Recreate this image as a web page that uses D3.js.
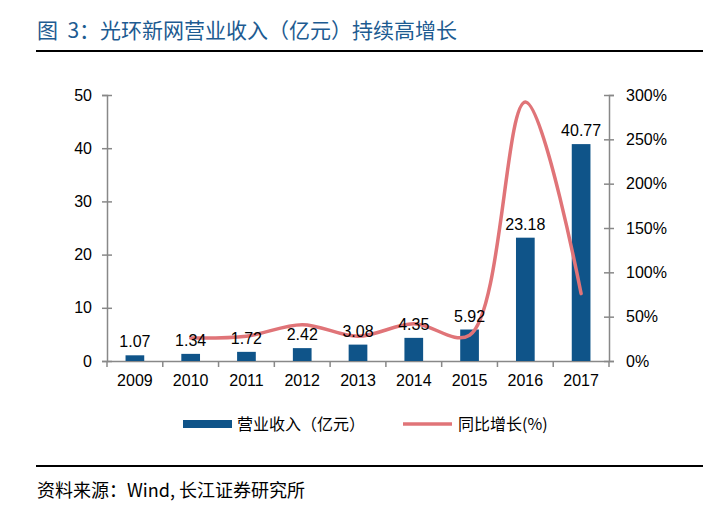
<!DOCTYPE html>
<html lang="zh">
<head>
<meta charset="UTF-8">
<title>光环新网营业收入</title>
<script src="https://cdn.jsdelivr.net/npm/d3@7/dist/d3.min.js"></script>
<style>
  body { margin: 0; background: #fff; }
  text { font-family: "Liberation Sans", Arial, "Noto Sans CJK SC", sans-serif; }
  .cjk { font-family: "Noto Sans CJK SC", sans-serif; }
</style>
</head>
<body>
<svg id="chart" width="715" height="512"></svg>
<script>
// data
const years = ["2009", "2010", "2011", "2012", "2013", "2014", "2015", "2016", "2017"];
const revenue = [1.07, 1.34, 1.72, 2.42, 3.08, 4.35, 5.92, 23.18, 40.77];
const growth = [null, 26, 28, 41, 28, 42, 29, 292, 76];
const leftTicks = [0, 10, 20, 30, 40, 50];
const rightTicks = [0, 50, 100, 150, 200, 250, 300];

const svg = d3.select("#chart");
const plotL = 107, plotR = 609, plotT = 95, plotB = 361;

let x = d3.scaleBand().domain(years).range([plotL, plotR]).paddingInner(0).paddingOuter(0);
let yL = d3.scaleLinear().domain([0, 50]).range([plotB, plotT]);
let yR = d3.scaleLinear().domain([0, 300]).range([plotB, plotT]);

// title + rules
svg.append("text").attr("class", "cjk")
    .attr("x", 37).attr("y", 38)
    .attr("fill", "#1d5b91").attr("font-size", 21)
    .attr("xml:space", "preserve").style("white-space", "pre")
    .text("图  3：光环新网营业收入（亿元）持续高增长");
svg.append("line").attr("x1", 36).attr("x2", 703).attr("y1", 51).attr("y2", 51)
    .attr("stroke", "#000").attr("stroke-width", 2);
svg.append("line").attr("x1", 36).attr("x2", 703).attr("y1", 466).attr("y2", 466)
    .attr("stroke", "#000").attr("stroke-width", 2);
svg.append("text").attr("class", "cjk")
    .attr("x", 37).attr("y", 497)
    .attr("fill", "#000").attr("font-size", 18)
    .text("资料来源：Wind, 长江证券研究所");

// axes
let axisL = svg.append("g").attr("transform", `translate(${plotL},0)`)
    .call(d3.axisLeft(yL).tickValues(leftTicks).tickSize(5).tickPadding(10));
let axisR = svg.append("g").attr("transform", `translate(${plotR},0)`)
    .call(d3.axisRight(yR).tickValues(rightTicks).tickSize(5).tickPadding(12).tickFormat(d => d + "%"));
let axisB = svg.append("g").attr("transform", `translate(0,${plotB})`)
    .call(d3.axisBottom(x).tickSize(0).tickPadding(14));

[axisL, axisR, axisB].forEach(a => {
    a.select(".domain").attr("stroke", "#888").attr("stroke-width", 1.5);
    a.selectAll(".tick line").attr("stroke", "#888").attr("stroke-width", 1.5);
    a.selectAll("text").attr("font-size", 16).attr("fill", "#000")
        .attr("font-family", "Liberation Sans, Arial, sans-serif");
});
axisL.selectAll(".tick line").attr("x1", -5).attr("x2", 5);
axisR.selectAll(".tick line").attr("x1", -5).attr("x2", 5);

// category boundary ticks
let bounds = years.map(d => x(d)).concat([plotR]);
svg.append("g").selectAll("line").data(bounds).enter().append("line")
    .attr("x1", d => d).attr("x2", d => d)
    .attr("y1", plotB).attr("y2", plotB + 6)
    .attr("stroke", "#888").attr("stroke-width", 1.5);

// bars
const barW = 18.7;
svg.append("g").selectAll("rect").data(years).enter().append("rect")
    .attr("x", (d) => x(d) + x.bandwidth() / 2 - barW / 2)
    .attr("y", (d, i) => yL(revenue[i]))
    .attr("width", barW)
    .attr("height", (d, i) => plotB - yL(revenue[i]))
    .attr("fill", "#0f5489");

// growth line
let pts = years.map((d, i) => [x(d) + x.bandwidth() / 2, growth[i]]).filter(p => p[1] !== null);
let line = d3.line().x(p => p[0]).y(p => yR(p[1])).curve(d3.curveCatmullRom.alpha(0.5));
svg.append("path").attr("d", line(pts))
    .attr("fill", "none").attr("stroke", "#e07478").attr("stroke-width", 3.5)
    .attr("stroke-linecap", "round");

// data labels
svg.append("g").selectAll("text").data(years).enter().append("text")
    .attr("x", (d) => x(d) + x.bandwidth() / 2)
    .attr("y", (d, i) => yL(revenue[i]) - 8)
    .attr("text-anchor", "middle").attr("font-size", 16).attr("fill", "#000")
    .text((d, i) => revenue[i].toFixed(2));

// legend
let lg = svg.append("g");
lg.append("rect").attr("x", 183).attr("y", 420).attr("width", 49).attr("height", 8).attr("fill", "#0f5489");
lg.append("text").attr("class", "cjk").attr("x", 237).attr("y", 430).attr("font-size", 16).attr("fill", "#000")
    .text("营业收入（亿元）");
lg.append("line").attr("x1", 403).attr("x2", 452).attr("y1", 424).attr("y2", 424)
    .attr("stroke", "#e07478").attr("stroke-width", 3.5);
lg.append("text").attr("class", "cjk").attr("x", 458).attr("y", 430).attr("font-size", 16).attr("fill", "#000")
    .text("同比增长(%)");
</script>
</body>
</html>
